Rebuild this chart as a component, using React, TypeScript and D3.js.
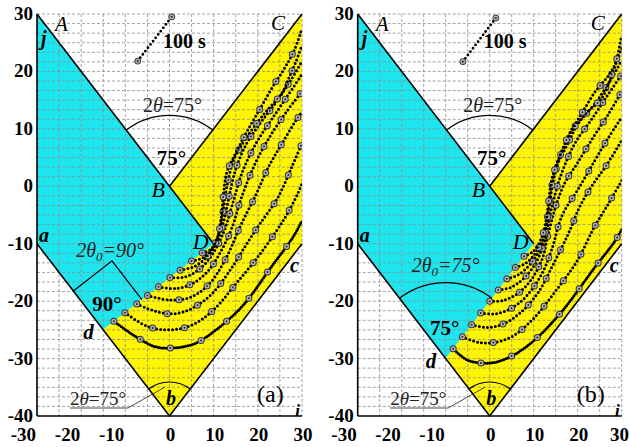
import React from "react";
import * as d3 from "d3";

const xTicks = [-30, -20, -10, 0, 10, 20, 30];
const yTicks = [30, 20, 10, 0, -10, -20, -30, -40];

// corners of the shaded regions (shared by both panels)
const ptA = [-30, 30];
const ptB = [0, 0];
const ptC = [30, 30];
const ptD = [10, -10];
const pta = [-30, -10];
const ptb = [0, -40];
const ptc = [30, -10];
const ptdA = [-15, -25];
const ptdB = [-10, -30];

// the "100 s" scale bar
const barA = [[-7.2, 21.8], [0.5, 29.5]];
const barB = [[-6.1, 21.7], [1.4, 29.3]];

// trajectories
const tracksA = [
  [[-12.6, -23.5], [-7.4, -26.3], [-2.9, -28], [1.4, -28.1], [5.7, -27.4], [10.7, -24.9], [16.7, -20.7], [22.7, -14.4], [28, -8.8], [30, -6]],
  [[-10.1, -22.0], [-5, -24.4], [0, -25], [5, -24.2], [10, -21.5], [15, -17], [19.7, -12.6], [24, -8], [26.5, -5], [29.2, -1], [30, 0.5]],
  [[-7.4, -20.5], [-3, -21.8], [1, -22.2], [5, -21.3], [9.5, -18.8], [14, -14.3], [17.5, -10], [20.5, -6.5], [24.5, -2], [27.7, 3.4], [30, 7.5]],
  [[-5.0, -19.0], [0, -19.8], [4.8, -19.3], [9, -17], [12.8, -12.5], [16, -7], [19.6, -1.4], [22.5, 3.5], [25.5, 7.5], [28.5, 11.3], [30, 13]],
  [[-2.5, -17.5], [1.5, -17.8], [5.5, -16.8], [9, -14.5], [12, -10.8], [14, -7.5], [16.5, -1.5], [19.6, 4.3], [23, 9], [26.5, 13], [30, 16.5]],
  [[0.1, -15.9], [3.5, -15.8], [7, -14.3], [10, -11.5], [12.5, -7.5], [14.3, -3], [16.5, 2.5], [19.6, 7.5], [23, 11.5], [26.5, 15.5], [30, 19.5]],
  [[2.4, -14.6], [5.5, -14], [8.5, -12.3], [10.8, -9.5], [12.3, -6], [13.3, -2.5], [15, 3], [17.5, 7.5], [20.1, 10.5], [24, 14.5], [27.5, 18.5], [30, 21.8]],
  [[5.0, -13.0], [7.5, -12.5], [9.8, -10.8], [11.3, -7.8], [12.2, -4], [13, 0], [14.5, 4.5], [17, 8], [21.2, 12.4], [25.5, 16.3], [27.1, 19], [28.5, 21.5], [30, 24.5]],
  [[7.4, -11.6], [9.3, -11], [10.8, -9], [11.7, -5.5], [12.2, -1.5], [13, 2.5], [15, 5.8], [17.5, 9.5], [20.5, 13.5], [23.5, 17.5], [26, 20.5], [28.2, 23.6], [29.8, 27]],
];

// trajectories
const tracksB = [
  [[-8.3, -28.3], [-5.2, -30.2], [-1.5, -30.8], [1.5, -30.6], [5.4, -29.4], [10.3, -26.7], [16.4, -21.8], [23.7, -14.3], [28.5, -9.5], [30, -7.5]],
  [[-6.2, -26.2], [-2.5, -27.2], [1, -27.2], [5, -26.2], [10, -23], [15, -18.2], [19.8, -13.1], [23.7, -7.2], [27, -3], [30, 1]],
  [[-4.1, -24.1], [-0.5, -24.6], [3, -24], [7, -22], [11, -18.5], [14.5, -13.5], [17.9, -8.2], [20.5, -3.5], [23.5, 0.4], [26.4, 3.5], [30, 8]],
  [[-2.05, -22.05], [1.5, -22.2], [5, -21.2], [8.5, -19], [12, -15], [14.1, -11], [16.5, -5], [20.1, -0.5], [23.9, 4.5], [27, 8.5], [30, 12]],
  [[0, -20], [3, -19.9], [6.5, -18.6], [9.5, -16.2], [12, -12.5], [13.1, -9], [14.8, -4], [17, 0.5], [19.9, 4], [23.5, 8.5], [27, 12.6], [30, 16.5]],
  [[1.95, -18.05], [4.8, -17.6], [7.8, -16], [10.5, -13.3], [12.5, -9.5], [13.7, -5], [15.6, 0.6], [17.5, 4.5], [19.6, 7.8], [23, 11.5], [26.5, 15.5], [30, 19.5]],
  [[3.9, -16.1], [6.5, -15.4], [9.2, -13.6], [11.5, -10.8], [12.9, -7], [13.7, -2.3], [15.4, 3.7], [17.8, 7.5], [20.1, 10.9], [24, 14.5], [27.5, 18.5], [30, 22]],
  [[5.85, -14.15], [8.2, -13.4], [10.5, -11.5], [12.3, -8.5], [13.2, -5], [14, -0.5], [15, 3.5], [16.4, 6], [18.5, 9.5], [21.8, 12.6], [25.6, 15.5], [28, 20], [30, 24]],
  [[7.8, -12.2], [9.8, -11.4], [11.6, -9.3], [12.8, -6], [13.4, -2.5], [14.2, 1.5], [15.8, 5], [18, 9], [21, 12.8], [24, 16.5], [26.8, 19.1], [28.5, 21.3], [29.9, 26]],
];

const serif = "'Liberation Serif', 'Times New Roman', serif";
const TOP = 14;
const BOTTOM = 416;

function Panel({ id, left, right, dPt, tracks, bar, tag, rightAngle }) {
  const x = d3.scaleLinear().domain([-30, 30]).range([left, right]);
  const y = d3.scaleLinear().domain([-40, 30]).range([BOTTOM, TOP]);
  const P = (p) => [x(p[0]), y(p[1])];
  const poly = (pts) => pts.map((p) => P(p).join(",")).join(" ");
  const line = d3.line().x((d) => x(d[0])).y((d) => y(d[1]));
  const curve = d3.line().x((d) => x(d[0])).y((d) => y(d[1])).curve(d3.curveCatmullRom.alpha(0.5));

  // half opening angle of the 45 deg lines on screen
  const half = Math.atan((x(1) - x(0)) / (y(0) - y(1)));
  const arcAt = (p, r) => {
    const [cx, cy] = P(p);
    const pa = d3.path();
    pa.arc(cx, cy, r, -Math.PI / 2 - half, -Math.PI / 2 + half);
    return pa.toString();
  };

  const hGrid = d3.range(1, 43).map((k) => -40 + (k * 10) / 6);
  const vGrid = d3.range(-25, 31, 5);

  const [Bx, By] = P(ptB);
  const [Dx, Dy] = P(ptD);
  const [ax, ay] = P(pta);
  const [bx, by] = P(ptb);
  const [cx, cy] = P(ptc);
  const [dx, dy] = P(dPt);

  // right-angle marker for panel (a)
  let square = null;
  if (rightAngle) {
    const L = 49;
    const toA = [ax - dx, ay - dy];
    const toD = [Dx - dx, Dy - dy];
    const la = Math.hypot(toA[0], toA[1]);
    const ld = Math.hypot(toD[0], toD[1]);
    const p1 = [dx + (toA[0] / la) * L, dy + (toA[1] / la) * L];
    const p3 = [dx + (toD[0] / ld) * L, dy + (toD[1] / ld) * L];
    const p2 = [p1[0] + p3[0] - dx, p1[1] + p3[1] - dy];
    square = [p1, p2, p3].map((p) => p.join(",")).join(" ");
  }

  const ringGap = 32;
  return (
    <g>
      <defs>
        <clipPath id={"clip" + id}>
          <rect x={left} y={TOP} width={right - left} height={BOTTOM - TOP} />
        </clipPath>
      </defs>
      <polygon points={poly([ptA, ptD, dPt, pta])} fill="#1ee6ef" />
      <polygon points={poly([ptB, ptC, ptc, ptb, dPt, ptD])} fill="#fff500" />

      {hGrid.map((v) => (
        <line key={"h" + v} x1={left} x2={right} y1={y(v)} y2={y(v)} stroke="#8c8c8c" strokeWidth={0.8} strokeDasharray="3,2" />
      ))}
      {vGrid.map((v) => (
        <line key={"v" + v} x1={x(v)} x2={x(v)} y1={TOP} y2={BOTTOM} stroke="#8c8c8c" strokeWidth={0.8} strokeDasharray="3,2" />
      ))}

      <path d={line([ptA, ptD])} stroke="#000" strokeWidth={1.6} fill="none" />
      <path d={line([ptB, ptC])} stroke="#000" strokeWidth={1.6} fill="none" />
      <path d={line([pta, ptb, ptc])} stroke="#000" strokeWidth={1.6} fill="none" />
      <line x1={left} x2={left} y1={TOP} y2={BOTTOM} stroke="#000" strokeWidth={1.6} />
      <line x1={left} x2={right} y1={BOTTOM} y2={BOTTOM} stroke="#000" strokeWidth={1.6} />

      <g clipPath={`url(#clip${id})`}>
        {tracks.map((t, i) => (
          <g key={i}>
            <path d={curve(t)} fill="none" stroke="#000" strokeWidth={3} strokeLinecap="round" strokeDasharray={i === 0 ? "0 2.4" : "0 4"} />
            <path d={curve(t)} fill="none" stroke="#333" strokeWidth={7} strokeLinecap="round" strokeDasharray={`0 ${ringGap}`} />
            <path d={curve(t)} fill="none" stroke="#b5b5b5" strokeWidth={5} strokeLinecap="round" strokeDasharray={`0 ${ringGap}`} />
            <path d={curve(t)} fill="none" stroke="#222" strokeWidth={2} strokeLinecap="round" strokeDasharray={`0 ${ringGap}`} />
          </g>
        ))}
      </g>

      {/* 100 s scale bar */}
      <path d={line(bar)} fill="none" stroke="#000" strokeWidth={2.8} strokeLinecap="round" strokeDasharray="0 4.2" />
      {bar.map((p, i) => (
        <g key={i}>
          <circle cx={x(p[0])} cy={y(p[1])} r={3} fill="#b5b5b5" stroke="#333" strokeWidth={1} />
          <circle cx={x(p[0])} cy={y(p[1])} r={1} fill="#222" />
        </g>
      ))}
      <text x={left + 126} y={48} fontFamily={serif} fontWeight="bold" fontSize={20}>100 s</text>

      {/* angle arcs */}
      <path d={arcAt(ptB, 71)} fill="none" stroke="#000" strokeWidth={1.2} />
      <path d={arcAt(ptb, 34)} fill="none" stroke="#000" strokeWidth={1.2} />
      {rightAngle ? (
        <polyline points={square} fill="none" stroke="#000" strokeWidth={1.2} />
      ) : (
        <path d={arcAt(dPt, 76)} fill="none" stroke="#000" strokeWidth={1.2} />
      )}

      <g fontFamily={serif} fill="#000">
        <text x={Bx + 3} y={By - 74} fontSize={20} textAnchor="middle" fill="#222">
          2<tspan fontStyle="italic">θ</tspan>=75°
        </text>
        <text x={Bx + 2} y={By - 21} fontSize={21} fontWeight="bold" textAnchor="middle">75°</text>
        <text x={left + 18} y={TOP + 17} fontSize={21} fontStyle="italic">A</text>
        <text x={left + 4} y={TOP + 31} fontSize={20} fontStyle="italic" fontWeight="bold">j</text>
        <text x={right - 31} y={TOP + 16} fontSize={21} fontStyle="italic">C</text>
        <text x={Bx - 18} y={By + 11} fontSize={22} fontStyle="italic">B</text>
        <text x={ax + 2} y={ay - 2} fontSize={20} fontStyle="italic" fontWeight="bold">a</text>
        <text x={Dx - 5} y={Dy + 5} fontSize={22} fontStyle="italic" textAnchor="end">D</text>
        <text x={cx - 12} y={cy + 28} fontSize={20} fontStyle="italic" fontWeight="bold">c</text>
        <text x={dx - 20} y={dy + 9} fontSize={21} fontStyle="italic" fontWeight="bold">d</text>
        <text x={bx + 1.5} y={by - 11} fontSize={20} fontStyle="italic" fontWeight="bold" textAnchor="middle">b</text>
        <text x={right - 2} y={BOTTOM} fontSize={17} fontStyle="italic" fontWeight="bold" textAnchor="end">i</text>
        <text x={right - 45} y={402} fontSize={24}>{tag}</text>

        {rightAngle ? (
          <>
            <text x={dx - 27} y={dy - 73} fontSize={20} fontStyle="italic" fill="#222">
              2θ<tspan fontSize={13} dy={4}>0</tspan><tspan dy={-4}>=90°</tspan>
            </text>
            <text x={dx - 11} y={dy - 19} fontSize={21} fontWeight="bold">90°</text>
          </>
        ) : (
          <>
            <text x={dx} y={dy - 87} fontSize={20} fontStyle="italic" fill="#222" textAnchor="middle">
              2θ<tspan fontSize={13} dy={4}>0</tspan><tspan dy={-4}>=75°</tspan>
            </text>
            <text x={dx - 1} y={dy - 24} fontSize={21} fontWeight="bold" textAnchor="middle">75°</text>
          </>
        )}

        <text x={bx - 99.5} y={by - 11} fontSize={19} fill="#222">
          2<tspan fontStyle="italic">θ</tspan>=75°
        </text>
        <polyline points={`${bx - 99.5},${by - 8} ${bx - 41.5},${by - 8} ${bx - 4.5},${by - 29}`} fill="none" stroke="#333" strokeWidth={0.9} />

        {yTicks.map((t) => (
          <text key={"y" + t} x={left - 4} y={y(t) + 6} fontSize={19} fontWeight="bold" textAnchor="end">{t}</text>
        ))}
        {xTicks.map((t) => {
          const px = x(t);
          const nearEdge = px + 11 > 630;
          return (
            <text key={"x" + t} x={t < 0 ? px - 1 : nearEdge ? 629 : px + 1} y={441} fontSize={19} fontWeight="bold" textAnchor={t < 0 || nearEdge ? "end" : "middle"}>{t}</text>
          );
        })}
      </g>
    </g>
  );
}

export default function App() {
  return (
    <svg width={630} height={447} style={{ position: "absolute", left: 0, top: 0, background: "#fff" }}>
      <rect width={630} height={447} fill="#fff" />
      <Panel id="a" left={37} right={302} dPt={ptdA} tracks={tracksA} bar={barA} tag="(a)" rightAngle={true} />
      <Panel id="b" left={357.7} right={621.7} dPt={ptdB} tracks={tracksB} bar={barB} tag="(b)" rightAngle={false} />
    </svg>
  );
}
